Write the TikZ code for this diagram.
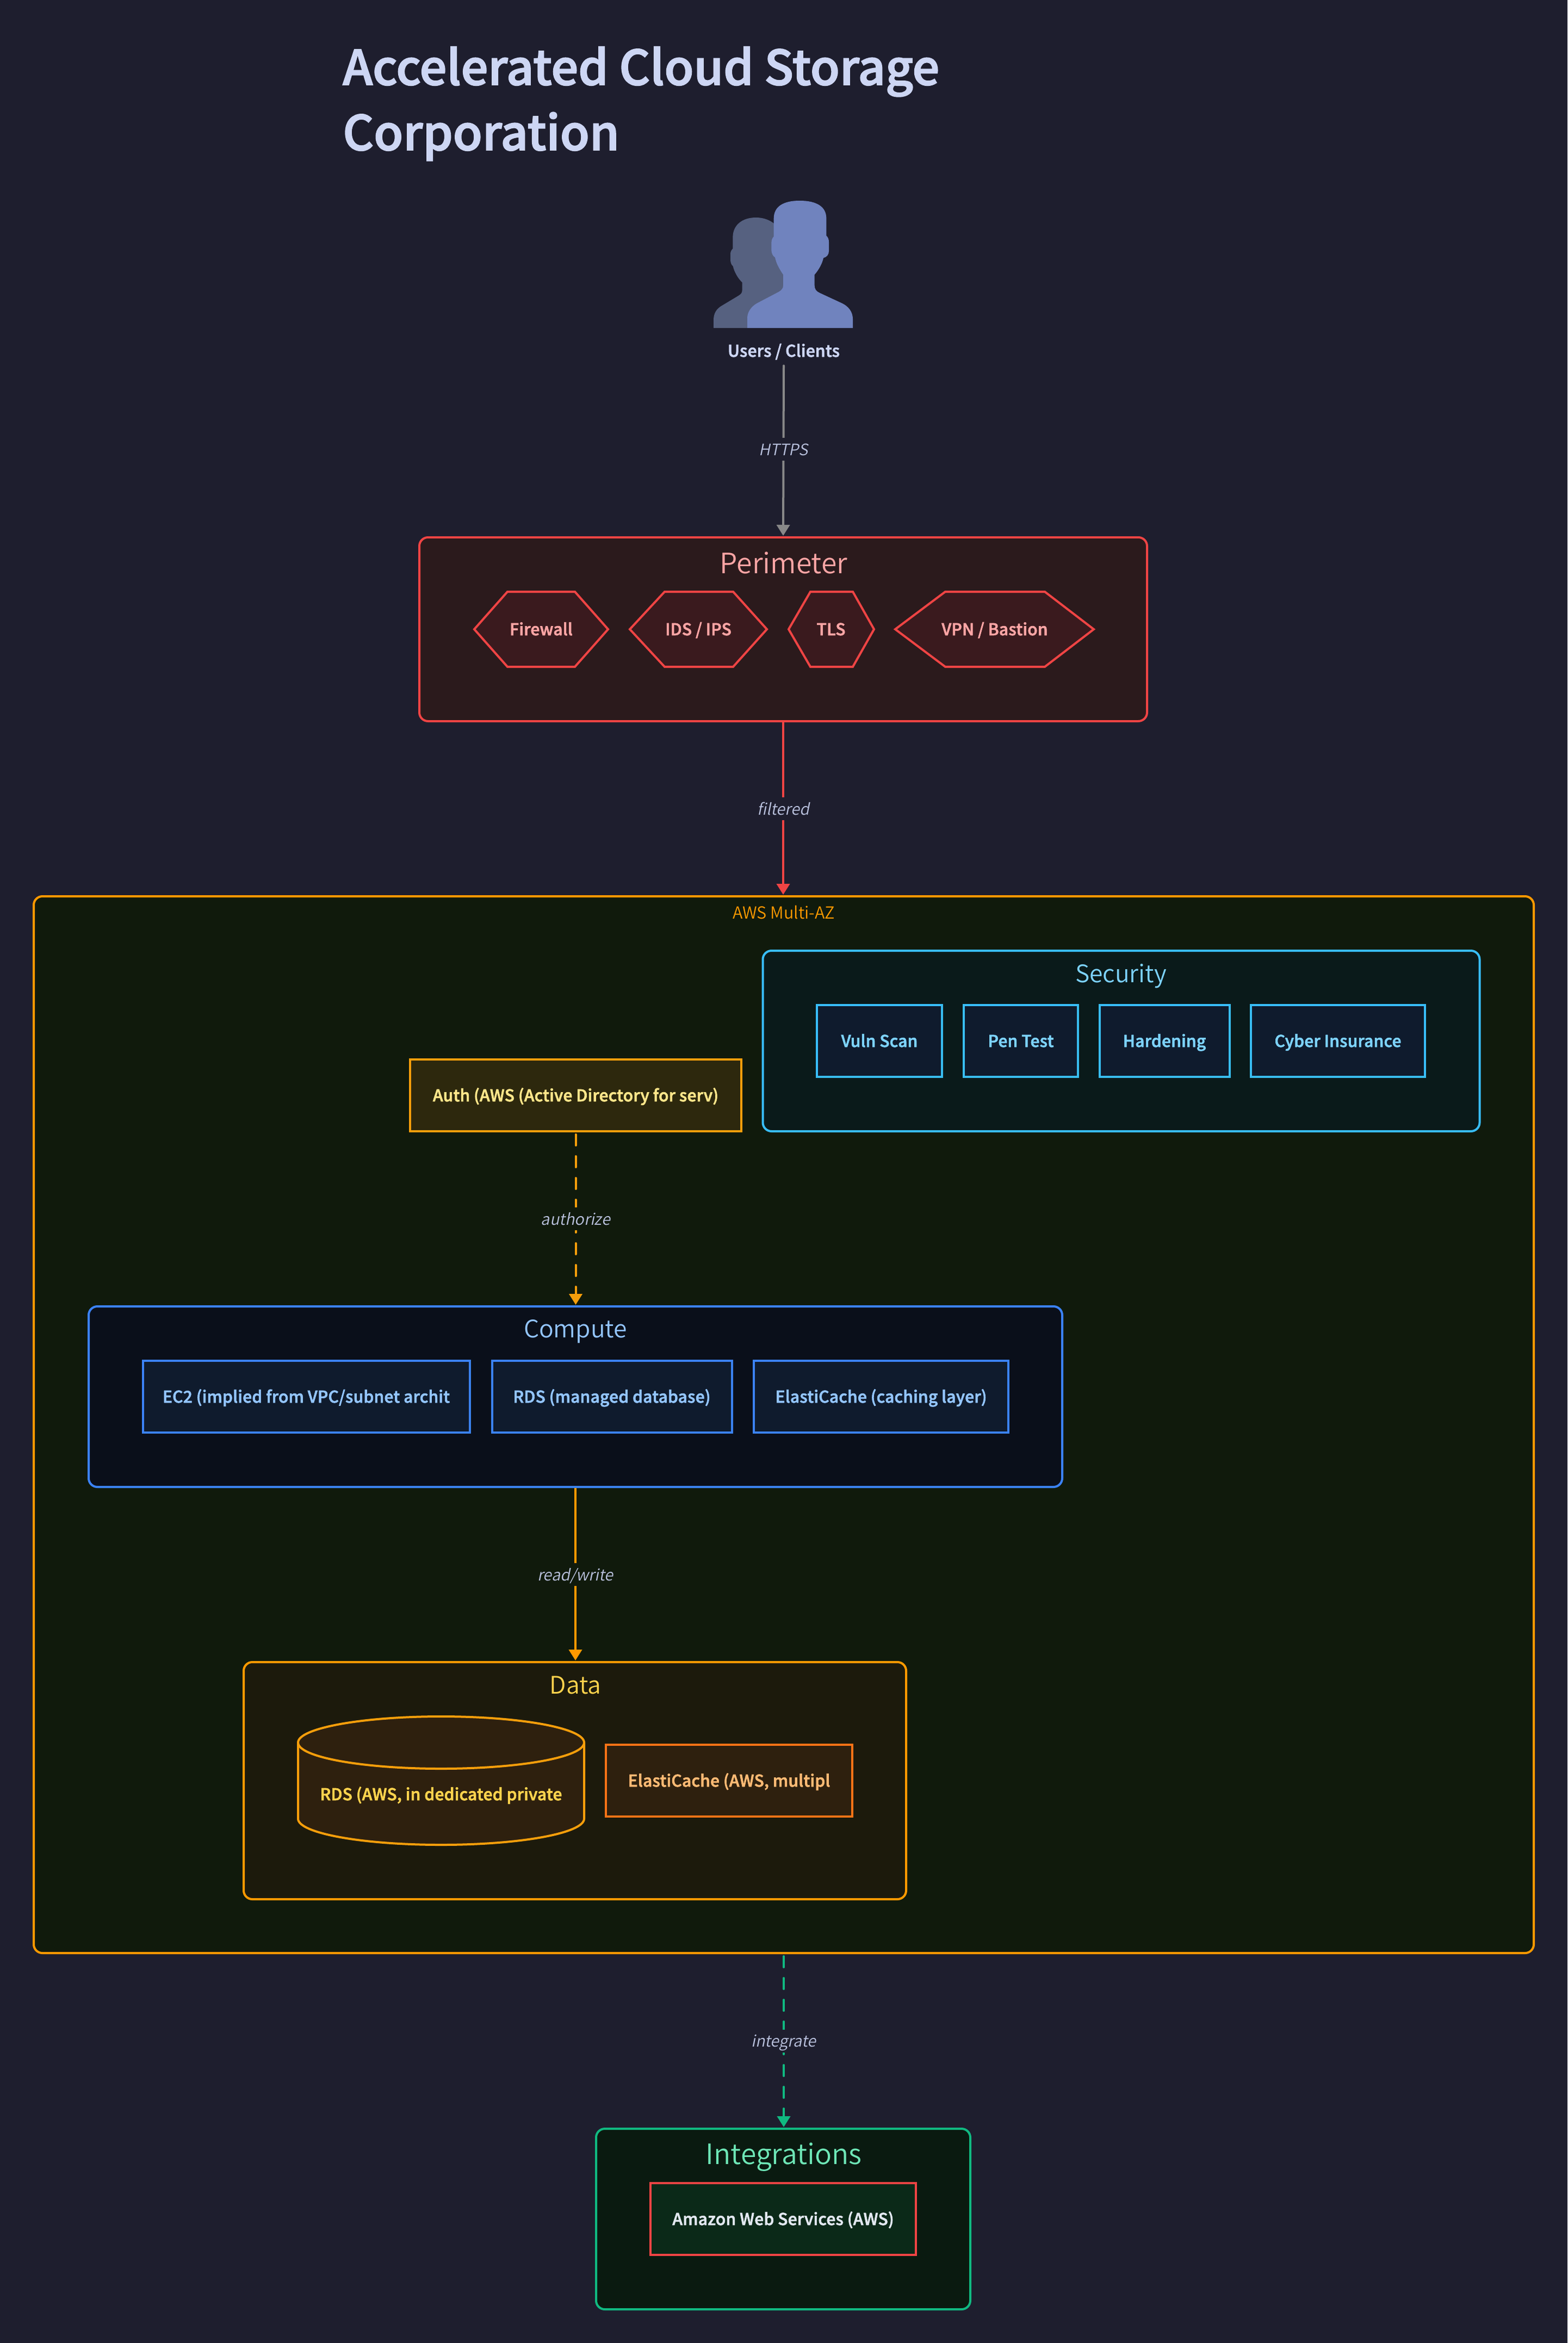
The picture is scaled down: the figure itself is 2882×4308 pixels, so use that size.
\documentclass[tikz,border=0pt]{standalone}
\usepackage{fontspec}
\setmainfont{Noto Sans CJK SC}
\newfontfamily\medf[FakeBold=2.2,LetterSpace=0.7]{Noto Sans CJK SC Medium}
\newfontfamily\ttlf[FakeBold=2.2]{Noto Sans CJK SC Medium}
\newfontfamily\ligf{Noto Sans CJK SC DemiLight}
\newfontfamily\lblfont[FakeSlant=0.2]{Noto Sans CJK SC DemiLight}
\usetikzlibrary{arrows.meta}
\definecolor{bgc}{HTML}{1E1E2E}
\definecolor{titlec}{HTML}{CDD6F4}
\definecolor{personback}{HTML}{566180}
\definecolor{personfront}{HTML}{7083BE}
\definecolor{lblc}{HTML}{BAC2DE}
\definecolor{grayc}{HTML}{888888}
\definecolor{redc}{HTML}{EF4444}
\definecolor{redt}{HTML}{FCA5A5}
\definecolor{redf}{HTML}{2B1A1C}
\definecolor{redh}{HTML}{3A1A1E}
\definecolor{awsc}{HTML}{FF9900}
\definecolor{awsf}{HTML}{101A0C}
\definecolor{ambc}{HTML}{F59E0B}
\definecolor{secc}{HTML}{38BDF8}
\definecolor{sect}{HTML}{7DD3FC}
\definecolor{secf}{HTML}{0A1A1A}
\definecolor{itemf}{HTML}{0F1B2D}
\definecolor{authf}{HTML}{2D280D}
\definecolor{autht}{HTML}{FDE68A}
\definecolor{compc}{HTML}{3B82F6}
\definecolor{compt}{HTML}{93C5FD}
\definecolor{compf}{HTML}{0A0F1A}
\definecolor{dataf}{HTML}{1C1A0C}
\definecolor{datat}{HTML}{FCD34D}
\definecolor{cylf}{HTML}{2E200E}
\definecolor{elac}{HTML}{F97316}
\definecolor{elat}{HTML}{FDBA74}
\definecolor{intc}{HTML}{10B981}
\definecolor{intt}{HTML}{6EE7B7}
\definecolor{intf}{HTML}{0A1A10}
\definecolor{inti}{HTML}{0B2918}
\definecolor{awst}{HTML}{E2E8F0}
\tikzset{
  grp/.style={draw=#1,line width=2pt,rounded corners=8pt,inner sep=0pt,outer sep=0pt},
  itm/.style={draw=#1,line width=2pt,inner sep=0pt,outer sep=0pt,minimum height=66pt,font=\medf\fontsize{15}{17}\selectfont,text height=11pt,text depth=0pt},
  gtitle/.style={anchor=base,inner sep=0pt,font=\ligf\fontsize{22.2}{30}\selectfont},
  gtitlelg/.style={anchor=base,inner sep=0pt,font=\ligf\fontsize{25.8}{30}\selectfont},
  txt/.style={inner sep=0pt,font=\medf\fontsize{15}{17}\selectfont,text height=11pt,text depth=0pt},
  lbl/.style={inner sep=0pt,minimum height=21pt,minimum width=30pt,font=\lblfont\fontsize{14.5}{17}\selectfont,text=lblc,text height=11pt,text depth=0pt,fill=#1},
  edgeline/.style={line width=2pt,draw=#1,-{Triangle[length=10pt,width=12pt,fill=#1]},shorten >=1.5pt,shorten <=1pt},
  dashline/.style={edgeline=#1,line cap=round,dash pattern=on 10pt off 10pt}
}
\begin{document}
\begin{tikzpicture}[x=0.5pt,y=-0.5pt]
\fill[bgc] (0,0) rectangle (2882,4308);
\useasboundingbox (0,0) rectangle (2882,4308);
% title
\node[anchor=base west,inner sep=0pt,text=titlec,font=\ttlf\fontsize{44}{60}\selectfont] (ttl1) at (630,156) {Accelerated Cloud Storage};
\node[anchor=base west,inner sep=0pt,text=titlec,font=\ttlf\fontsize{44}{60}\selectfont] (ttl2) at (630,276) {Corporation};
% users
\begin{scope}[shift={(1200,330)},x=0.16667pt,y=-0.16667pt]
\fill[personback] (336,819) -- (336,775) .. controls (336,735) and (355,712) .. (380,697) -- (475,640) .. controls (490,630) and (494,625) .. (494,605) -- (494,568) .. controls (470,545) and (450,510) .. (443,478) .. controls (432,470) and (429,455) .. (429,440) -- (429,410) .. controls (429,398) and (435,388) .. (442,382) -- (442,320) .. controls (442,250) and (495,210) .. (570,210) .. controls (640,210) and (700,250) .. (720,320) -- (720,700) -- (522,819) -- cycle;
\fill[personfront] (522,819) -- (522,765) .. controls (522,730) and (545,700) .. (575,683) -- (695,620) .. controls (712,610) and (720,600) .. (720,585) -- (720,525) .. controls (700,495) and (682,465) .. (675,430) .. controls (662,422) and (655,405) .. (655,390) -- (655,350) .. controls (655,335) and (660,322) .. (668,315) -- (668,215) .. controls (668,150) and (720,117) .. (810,117) .. controls (905,117) and (958,150) .. (958,215) -- (958,310) .. controls (967,318) and (972,330) .. (972,345) -- (972,395) .. controls (972,415) and (960,428) .. (942,433) .. controls (935,465) and (915,500) .. (893,525) -- (893,585) .. controls (893,605) and (903,617) .. (920,625) -- (1045,683) .. controls (1080,700) and (1104,730) .. (1104,770) -- (1104,819) -- cycle;
\end{scope}
\node[txt,text=titlec,minimum height=25pt] (users) at (1441,645) {Users / Clients};
% perimeter
\node[grp=redc,fill=redf,minimum width=669pt,minimum height=169pt] (perim) at (1440,1157) {};
\node[gtitlelg,text=redt] (perimt) at (1441,1054) {Perimeter};
\tikzset{hexa/.style={draw=redc,fill=redh,line width=2pt,line join=miter}}
\draw[hexa] (872,1157) -- (933,1088) -- (1057,1088) -- (1118,1157) -- (1057,1226) -- (933,1226) -- cycle;
\node[txt,text=redt] (fw) at (995,1157) {Firewall};
\draw[hexa] (1158,1157) -- (1222,1088) -- (1348,1088) -- (1410,1157) -- (1348,1226) -- (1222,1226) -- cycle;
\node[txt,text=redt] (ids) at (1284,1157) {IDS / IPS};
\draw[hexa] (1450,1157) -- (1490,1088) -- (1568,1088) -- (1607,1157) -- (1568,1226) -- (1490,1226) -- cycle;
\node[txt,text=redt] (tls) at (1528,1157) {TLS};
\draw[hexa] (1646,1157) -- (1738,1088) -- (1921,1088) -- (2011,1157) -- (1921,1226) -- (1738,1226) -- cycle;
\node[txt,text=redt] (vpn) at (1829,1157) {VPN / Bastion};
% aws
\node[grp=awsc,fill=awsf,minimum width=1379pt,minimum height=971.5pt] (aws) at (1441,2619.5) {};
\node[gtitle,font=\ligf\fontsize{15.3}{17}\selectfont,text=awsc] (awst1) at (1441,1689) {AWS Multi-AZ};
% security
\node[grp=secc,fill=secf,minimum width=659pt,minimum height=166pt] (sec) at (2061.5,1914) {};
\node[gtitle,text=sect] (sect1) at (2061,1806) {Security};
\node[itm=secc,fill=itemf,text=sect,minimum width=115pt] (vs) at (1617,1914) {Vuln Scan};
\node[itm=secc,fill=itemf,text=sect,minimum width=105pt] (pt) at (1877,1914) {Pen Test};
\node[itm=secc,fill=itemf,text=sect,minimum width=119.5pt] (hd) at (2141,1914) {Hardening};
\node[itm=secc,fill=itemf,text=sect,minimum width=160pt] (ci) at (2460,1914) {Cyber Insurance};
% auth
\node[itm=ambc,fill=authf,text=autht,minimum width=304.5pt] (auth) at (1058.5,2014) {Auth (AWS (Active Directory for serv)};
% compute
\node[grp=compc,fill=compf,minimum width=895pt,minimum height=166pt] (comp) at (1058,2568) {};
\node[gtitle,text=compt] (compt1) at (1058,2459) {Compute};
\node[itm=compc,fill=itemf,text=compt,minimum width=300.5pt] (ec2) at (563,2568) {EC2 (implied from VPC/subnet archit};
\node[itm=compc,fill=itemf,text=compt,minimum width=220.5pt] (rds1) at (1125,2568) {RDS (managed database)};
\node[itm=compc,fill=itemf,text=compt,minimum width=234pt] (ec1) at (1620,2568) {ElastiCache (caching layer)};
% data
\node[grp=awsc,fill=dataf,minimum width=609pt,minimum height=218pt] (data) at (1057,3274) {};
\node[gtitle,text=datat] (datat1) at (1058,3114) {Data};
\draw[draw=ambc,fill=cylf,line width=2pt] (548,3204) -- (548,3344) arc[start angle=180,end angle=360,x radius=131.5pt,y radius=24pt] -- (1074,3204) arc[start angle=0,end angle=180,x radius=131.5pt,y radius=24pt] -- cycle;
\draw[draw=ambc,line width=2pt] (548,3204) arc[start angle=180,end angle=360,x radius=131.5pt,y radius=24pt];
\node[txt,text=datat] (rds2) at (811,3299) {RDS (AWS, in dedicated private};
\node[itm=elac,fill=cylf,text=elat,minimum width=226.5pt] (ec3) at (1340.5,3274) {ElastiCache (AWS, multipl};
% integrations
\node[grp=intc,fill=intf,minimum width=344pt,minimum height=166pt,rounded corners=8pt] (integ) at (1440,4080) {};
\node[gtitlelg,text=intt] (intt1) at (1441,3979) {Integrations};
\node[itm=redc,fill=inti,text=awst,minimum width=244pt] (amz) at (1440,4080) {Amazon Web Services (AWS)};
% edges
\draw[edgeline=grayc,line cap=round] (users.south) -- node[lbl=bgc,pos=.49] {HTTPS} (perim.north);
\draw[edgeline=redc] (perim.south) -- node[lbl=bgc] {filtered} (perim.south |- aws.north);
\draw[dashline=ambc] (auth.south) ++(0,4) -- node[lbl=awsf,pos=.494] {authorize} (auth.south |- comp.north);
\draw[edgeline=awsc] (comp.south) -- node[lbl=awsf] {read/write} (comp.south |- data.north);
\draw[dashline=intc] (aws.south) ++(0,4) -- node[lbl=bgc,pos=.494] {integrate} (aws.south |- integ.north);
\end{tikzpicture}
\end{document}
